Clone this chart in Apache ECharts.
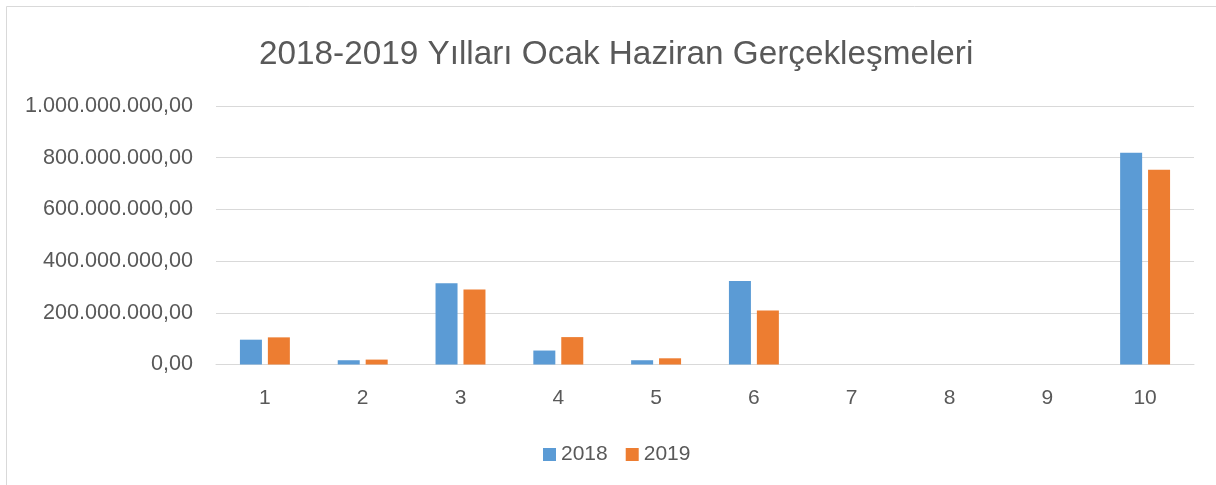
<!DOCTYPE html>
<html>
<head>
<meta charset="utf-8">
<script src="https://cdn.jsdelivr.net/npm/echarts@6/dist/echarts.min.js"></script>
<style>
html,body{margin:0;padding:0;background:#fff;}
#c{width:1216px;height:485px;}
</style>
</head>
<body>
<div id="c"></div>
<script>
var titleText = '2018-2019 Yılları Ocak Haziran Gerçekleşmeleri';
var categories = ['1','2','3','4','5','6','7','8','9','10'];
var seriesNames = ['2018','2019'];
var values2018 = [96000000, 16500000, 314000000, 54000000, 16500000, 323000000, 0, 0, 0, 819000000];
var values2019 = [105000000, 19000000, 290000000, 106000000, 24000000, 209000000, 0, 0, 0, 753000000];
var yTickLabels = ['0,00','200.000.000,00','400.000.000,00','600.000.000,00','800.000.000,00','1.000.000.000,00'];
var yMax = 1000000000;
var yInterval = 200000000;

var font = 'Liberation Sans, Arial, sans-serif';
var textColor = '#595959';
var chart = echarts.init(document.getElementById('c'));
chart.setOption({
  animation: false,
  backgroundColor: '#fff',
  graphic: [{
    type: 'rect',
    shape: {x: 6.5, y: 6.5, width: 1240, height: 520},
    style: {fill: 'none', stroke: '#d9d9d9', lineWidth: 1},
    silent: true
  }],
  title: {
    text: titleText,
    left: 254,
    top: 33,
    textStyle: {fontFamily: font, fontSize: 33.3, fontWeight: 'normal', color: textColor}
  },
  legend: {
    data: seriesNames,
    left: 538,
    top: 439,
    icon: 'rect',
    itemWidth: 13,
    itemHeight: 13,
    itemGap: 18,
    textStyle: {fontFamily: font, fontSize: 21, color: textColor}
  },
  grid: {left: 216, right: 22, top: 106, bottom: 120.5, containLabel: false},
  xAxis: {
    type: 'category',
    data: categories,
    axisLine: {show: true, lineStyle: {color: '#d9d9d9', width: 1}},
    axisTick: {show: false},
    axisLabel: {fontFamily: font, fontSize: 21, color: textColor, margin: 23}
  },
  yAxis: {
    type: 'value',
    min: 0,
    max: yMax,
    interval: yInterval,
    axisLine: {show: false},
    axisTick: {show: false},
    splitLine: {lineStyle: {color: '#d9d9d9', width: 1}},
    axisLabel: {
      fontFamily: font, fontSize: 21.6, color: textColor, margin: 23,
      formatter: function (v) { return yTickLabels[Math.round(v / yInterval)]; }
    }
  },
  series: [
    {name: seriesNames[0], type: 'bar', data: values2018, barWidth: 22, barGap: '27%',
     itemStyle: {color: '#5B9BD5'}},
    {name: seriesNames[1], type: 'bar', data: values2019, barWidth: 22, barGap: '27%',
     itemStyle: {color: '#ED7D31'}}
  ]
});
</script>
</body>
</html>
